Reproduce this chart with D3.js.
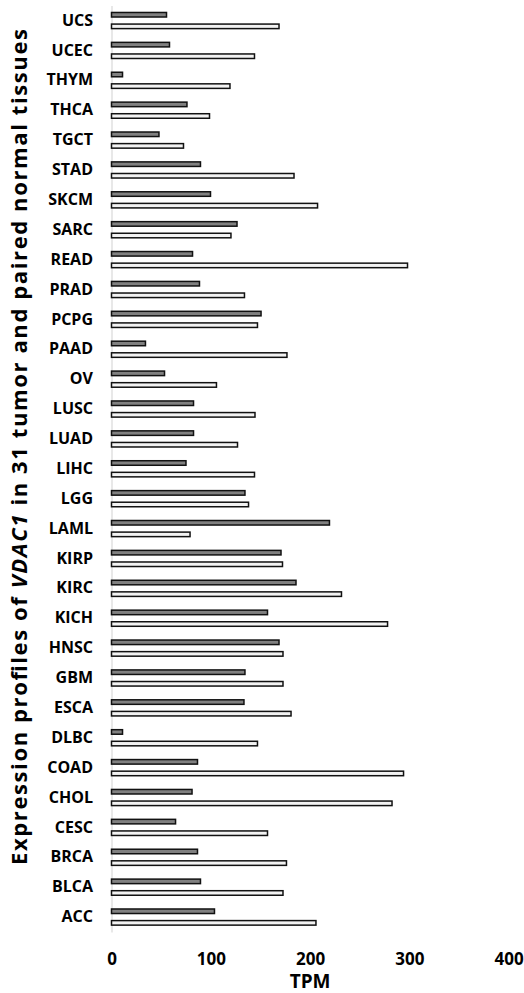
<!DOCTYPE html>
<html>
<head>
<meta charset="utf-8">
<script src="https://cdn.jsdelivr.net/npm/d3@7"></script>
<style>
  body { margin: 0; background: #fff; }
  svg { display: block; font-family: "Open Sans", "DejaVu Sans", sans-serif; font-weight: bold; }
</style>
</head>
<body>
<div id="chart"></div>
<script>
// cancer types, top to bottom as in the figure
const cancers = ['UCS','UCEC','THYM','THCA','TGCT','STAD','SKCM','SARC','READ','PRAD','PCPG','PAAD','OV','LUSC','LUAD','LIHC','LGG','LAML','KIRP','KIRC','KICH','HNSC','GBM','ESCA','DLBC','COAD','CHOL','CESC','BRCA','BLCA','ACC']

// dark bars (upper bar of each pair)
const normalTPM = [55.4, 58.4, 11.1, 76, 47.8, 89.6, 99.7, 126.4, 81.6, 88.6, 150.6, 34.2, 53.4, 82.6, 82.6, 75, 134.4, 219.5, 170.7, 185.8, 157.1, 168.7, 134.4, 133.4, 11.1, 86.6, 81.1, 64.5, 86.6, 89.6, 103.7]
// light bars (lower bar of each pair)
const tumorTPM = [168.7, 144, 119.3, 98.7, 72.5, 183.8, 207.5, 120.3, 298.1, 133.9, 147, 176.7, 105.7, 144.5, 126.9, 144, 138, 79.1, 172.2, 231.6, 278, 172.7, 172.7, 180.8, 147, 294.1, 282.5, 157.1, 176.2, 172.7, 205.9]

const xTicks = [0, 100, 200, 300, 400]
const series = ['normal', 'tumor']

var width = 524,
    height = 993,
    margin = {top: 5.6, right: 15.3, bottom: 61, left: 111.5};

var rows = cancers.map(function(c, i){
  return {name: c, normal: normalTPM[i], tumor: tumorTPM[i]};
});

var svg = d3.select('#chart').append('svg')
  .attr('width', width)
  .attr('height', height);

var x = d3.scaleLinear()
  .domain([0, 400])
  .range([margin.left, width - margin.right]);

var y = d3.scaleBand()
  .domain(cancers)
  .range([margin.top, height - margin.bottom])
  .paddingInner(0.41)
  .paddingOuter(0.205);

var ySub = d3.scaleBand()
  .domain(series)
  .range([0, y.bandwidth()])
  .paddingInner(0.48);

var fills = {normal: '#808080', tumor: '#f2f2f2'};
var sw = 1.5;

// category axis (light grey line + labels)
var yAxis = svg.append('g')
  .attr('transform', 'translate(' + x(0) + ',0)')
  .call(d3.axisLeft(y).tickSize(0).tickPadding(18.5).tickSizeOuter(0));

yAxis.select('.domain')
  .attr('stroke', '#d9d9d9')
  .attr('stroke-width', 1.2);

yAxis.selectAll('text')
  .attr('fill', '#000')
  .style('font-size', '16px')
  .style('font-weight', 'bold')
  .style('font-family', '"Open Sans", sans-serif');

// bars
var groups = svg.selectAll('g.row')
  .data(rows)
  .enter()
  .append('g')
  .attr('class', 'row')
  .attr('transform', function(d){ return 'translate(0,' + y(d.name) + ')'; });

groups.selectAll('rect')
  .data(function(d){ return series.map(function(s){ return {key: s, value: d[s]}; }); })
  .enter()
  .append('rect')
  .attr('x', x(0))
  .attr('y', function(d){ return ySub(d.key) + sw / 2; })
  .attr('width', function(d){ return x(d.value) - x(0); })
  .attr('height', ySub.bandwidth() - sw)
  .attr('fill', function(d){ return fills[d.key]; })
  .attr('stroke', '#111')
  .attr('stroke-width', sw);

// value axis
var xAxis = svg.append('g')
  .attr('transform', 'translate(0,' + (height - margin.bottom) + ')')
  .call(d3.axisBottom(x).tickValues(xTicks).tickSize(0).tickPadding(21));

xAxis.select('.domain').remove();
xAxis.selectAll('text')
  .attr('fill', '#000')
  .style('font-size', '17px')
  .style('font-weight', 'bold')
  .style('font-family', '"Open Sans", sans-serif');

svg.append('text')
  .attr('x', x(200))
  .attr('y', 988)
  .attr('text-anchor', 'middle')
  .style('font-size', '19px')
  .text('TPM');

// rotated title, VDAC1 in italics
var title = svg.append('text')
  .attr('transform', 'translate(27,447) rotate(-90)')
  .attr('text-anchor', 'middle')
  .attr('textLength', 836)
  .attr('lengthAdjust', 'spacing')
  .style('font-size', '22px');

title.append('tspan').text('Expression profiles of ');
title.append('tspan').style('font-style', 'italic').text('VDAC1');
title.append('tspan').text(' in 31 tumor and paired normal tissues');
</script>
</body>
</html>
